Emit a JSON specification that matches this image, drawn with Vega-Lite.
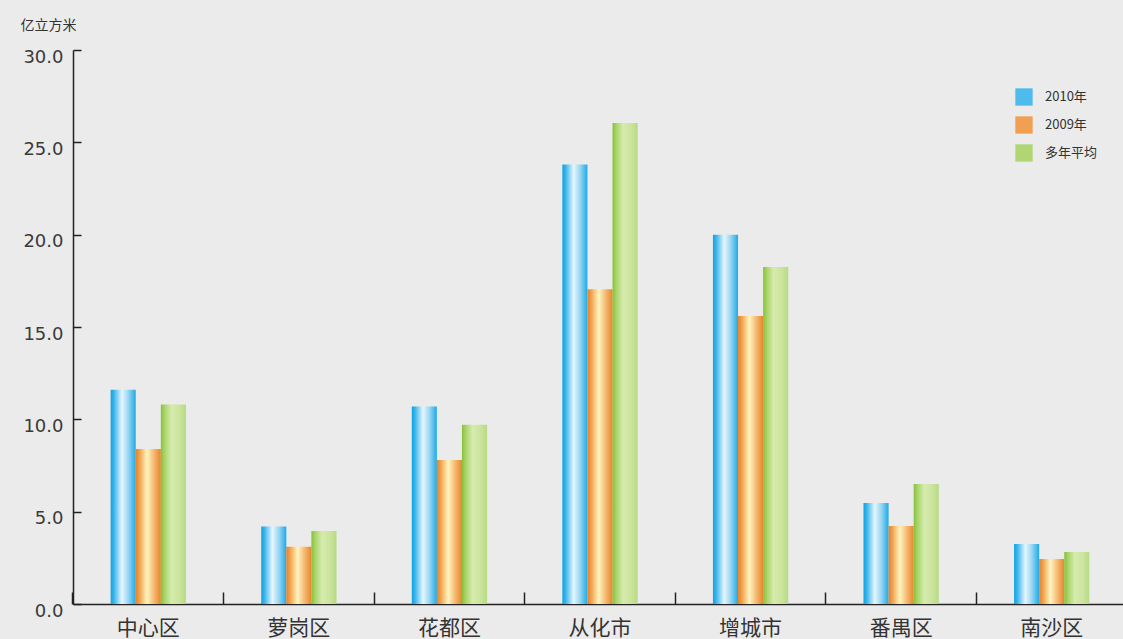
{
  "$schema": "https://vega.github.io/schema/vega-lite/v6.json",
  "width": 1054,
  "height": 554,
  "autosize": "none",
  "padding": {"left": 73, "top": 50, "right": 0, "bottom": 35},
  "background": "#ebebeb",
  "data": {
    "values": [
      {"district": "中心区", "series": "2010年", "value": 11.6},
      {"district": "中心区", "series": "2009年", "value": 8.4},
      {"district": "中心区", "series": "多年平均", "value": 10.8},
      {"district": "萝岗区", "series": "2010年", "value": 4.2},
      {"district": "萝岗区", "series": "2009年", "value": 3.1},
      {"district": "萝岗区", "series": "多年平均", "value": 3.95},
      {"district": "花都区", "series": "2010年", "value": 10.7},
      {"district": "花都区", "series": "2009年", "value": 7.8},
      {"district": "花都区", "series": "多年平均", "value": 9.7},
      {"district": "从化市", "series": "2010年", "value": 23.8},
      {"district": "从化市", "series": "2009年", "value": 17.05},
      {"district": "从化市", "series": "多年平均", "value": 26.05},
      {"district": "增城市", "series": "2010年", "value": 20.0},
      {"district": "增城市", "series": "2009年", "value": 15.6},
      {"district": "增城市", "series": "多年平均", "value": 18.25},
      {"district": "番禺区", "series": "2010年", "value": 5.47},
      {"district": "番禺区", "series": "2009年", "value": 4.22},
      {"district": "番禺区", "series": "多年平均", "value": 6.5},
      {"district": "南沙区", "series": "2010年", "value": 3.25},
      {"district": "南沙区", "series": "2009年", "value": 2.44},
      {"district": "南沙区", "series": "多年平均", "value": 2.82}
    ]
  },
  "encoding": {
    "x": {
      "field": "district",
      "type": "nominal",
      "sort": ["中心区", "萝岗区", "花都区", "从化市", "增城市", "番禺区", "南沙区"],
      "scale": {"paddingInner": 0.5, "paddingOuter": 0.25},
      "axis": {
        "title": null,
        "labelAngle": 0,
        "labelFont": "Noto Sans CJK SC",
        "labelFontSize": 21,
        "labelColor": "#333333",
        "labelPadding": 25,
        "bandPosition": -0.5,
        "tickSize": -12,
        "tickColor": "#222222",
        "tickWidth": 1.5,
        "domainColor": "#222222",
        "domainWidth": 1.5
      }
    },
    "xOffset": {
      "field": "series",
      "type": "nominal",
      "sort": ["2010年", "2009年", "多年平均"],
      "scale": {"paddingInner": 0, "paddingOuter": 0}
    },
    "y": {
      "field": "value",
      "type": "quantitative",
      "scale": {"domain": [0, 30], "nice": false},
      "axis": {
        "values": [0, 5, 10, 15, 20, 25, 30],
        "format": ".1f",
        "grid": false,
        "labelFont": "DejaVu Sans",
        "labelFontSize": 18,
        "labelColor": "#3a3a3a",
        "labelPadding": 18,
        "labelBaseline": "top",
        "labelOffset": -2,
        "tickSize": -8,
        "tickColor": "#222222",
        "tickWidth": 1.5,
        "domainColor": "#222222",
        "domainWidth": 1.5,
        "title": "亿立方米",
        "titleAngle": 0,
        "titleX": -53,
        "titleY": -25,
        "titleAlign": "left",
        "titleBaseline": "middle",
        "titleFont": "Noto Sans CJK SC",
        "titleFontSize": 14,
        "titleFontWeight": "normal",
        "titleColor": "#333333"
      }
    }
  },
  "layer": [
    {
      "transform": [{"filter": "datum.series === '2010年'"}],
      "mark": {
        "type": "bar",
        "fill": {
          "gradient": "linear", "x1": 0, "x2": 1, "y1": 0, "y2": 0,
          "stops": [
            {"offset": 0, "color": "#0ea3e2"},
            {"offset": 0.12, "color": "#35b3ea"},
            {"offset": 0.45, "color": "#e6f6fd"},
            {"offset": 0.7, "color": "#9ad6f3"},
            {"offset": 1, "color": "#1eaae6"}
          ]
        }
      }
    },
    {
      "transform": [{"filter": "datum.series === '2009年'"}],
      "mark": {
        "type": "bar",
        "fill": {
          "gradient": "linear", "x1": 0, "x2": 1, "y1": 0, "y2": 0,
          "stops": [
            {"offset": 0, "color": "#e8802a"},
            {"offset": 0.15, "color": "#f0a24c"},
            {"offset": 0.45, "color": "#fff4bf"},
            {"offset": 0.75, "color": "#f3b46c"},
            {"offset": 1, "color": "#e8862c"}
          ]
        }
      }
    },
    {
      "transform": [{"filter": "datum.series === '多年平均'"}],
      "mark": {
        "type": "bar",
        "fill": {
          "gradient": "linear", "x1": 0, "x2": 1, "y1": 0, "y2": 0,
          "stops": [
            {"offset": 0, "color": "#86c238"},
            {"offset": 0.15, "color": "#a8d468"},
            {"offset": 0.42, "color": "#d6ebae"},
            {"offset": 0.75, "color": "#cbe49c"},
            {"offset": 1, "color": "#b6da84"}
          ]
        }
      }
    },
    {
      "mark": {"type": "bar", "opacity": 0},
      "encoding": {
        "color": {
          "field": "series",
          "type": "nominal",
          "sort": ["2010年", "2009年", "多年平均"],
          "scale": {"domain": ["2010年", "2009年", "多年平均"], "range": ["#4dbcec", "#f0a050", "#b0d673"]},
          "legend": {
            "title": null,
            "orient": "none",
            "legendX": 942,
            "legendY": 38,
            "symbolType": "square",
            "symbolSize": 300,
            "symbolStrokeWidth": 0,
            "rowPadding": 10,
            "labelOffset": 12,
            "labelFont": "Noto Sans CJK SC",
            "labelFontSize": 13,
            "labelColor": "#333333",
            "encode": {"symbols": {"update": {"opacity": {"value": 1}}}}
          }
        }
      }
    }
  ],
  "config": {"view": {"stroke": null}}
}
